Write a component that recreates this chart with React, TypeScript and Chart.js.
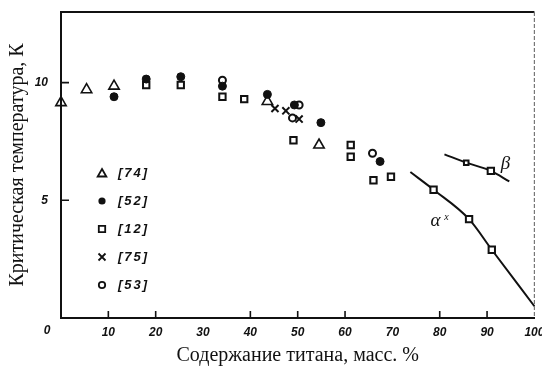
import React, { useEffect, useRef } from 'react';
import { Chart, registerables } from 'chart.js';

Chart.register(...registerables);

// ---- data ----
const xTickValues = [0, 10, 20, 30, 40, 50, 60, 70, 80, 90, 100];
const xInnerTicks = [10, 20, 40, 50, 60, 80, 90];
const yTickValues = [5, 10];

const ref74: number[][] = [[0, 9.15], [5.4, 9.7], [11.2, 9.85], [43.6, 9.2], [54.5, 7.35]];
const ref52: number[][] = [[11.2, 9.4], [18, 10.15], [25.3, 10.25], [34.1, 9.85], [43.6, 9.5], [49.3, 9.05], [54.9, 8.3], [67.4, 6.65]];
const ref12: number[][] = [[18, 9.9], [25.3, 9.9], [34.1, 9.4], [38.7, 9.3], [49.1, 7.55], [61.2, 7.35], [61.2, 6.85], [66, 5.85], [69.7, 6.0]];
const ref75: number[][] = [[45.2, 8.9], [47.5, 8.8], [50.3, 8.45]];
const ref53: number[][] = [[34.1, 10.1], [50.3, 9.05], [48.9, 8.5], [65.8, 7.0]];
const alphaCurve: number[][] = [[73.8, 6.2], [78.7, 5.45], [86.2, 4.2], [91, 2.9], [100, 0.5]];
const alphaMarked = [false, true, true, true, false];
const betaCurve: number[][] = [[81, 6.95], [85.6, 6.6], [90.8, 6.25], [94.7, 5.8]];
const betaMarked = [false, true, true, false];
const legendLabels = ['[74]', '[52]', '[12]', '[75]', '[53]'];
const alphaLabel = { text: 'α', sup: 'x', x: 79.1, y: 4.1 };
const betaLabel = { text: 'β', x: 93.9, y: 6.55 };

const INK = '#111';
const toPts = (a: number[][]) => a.map(([x, y]) => ({ x, y }));

function drawSymbol(ctx: CanvasRenderingContext2D, kind: number, x: number, y: number) {
  ctx.save();
  ctx.strokeStyle = INK;
  ctx.fillStyle = INK;
  ctx.lineWidth = 1.8;
  ctx.beginPath();
  if (kind === 0) {
    const r = 5;
    for (let i = 0; i < 3; i++) {
      const a = -Math.PI / 2 + (i * 2 * Math.PI) / 3;
      const px = x + Math.cos(a) * r, py = y + 1 + Math.sin(a) * r;
      if (i === 0) ctx.moveTo(px, py); else ctx.lineTo(px, py);
    }
    ctx.closePath();
    ctx.stroke();
  } else if (kind === 1) {
    ctx.arc(x, y, 3.6, 0, Math.PI * 2);
    ctx.fill();
  } else if (kind === 2) {
    ctx.rect(x - 3.2, y - 3.2, 6.4, 6.4);
    ctx.stroke();
  } else if (kind === 3) {
    ctx.moveTo(x - 3.5, y - 3.5); ctx.lineTo(x + 3.5, y + 3.5);
    ctx.moveTo(x + 3.5, y - 3.5); ctx.lineTo(x - 3.5, y + 3.5);
    ctx.stroke();
  } else {
    ctx.arc(x, y, 3.2, 0, Math.PI * 2);
    ctx.stroke();
  }
  ctx.restore();
}

const extrasPlugin = {
  id: 'extras',
  afterDraw(chart: any) {
    const { ctx, chartArea: a, scales } = chart;
    const xs = scales.x, ys = scales.y;
    ctx.save();
    // top border
    ctx.strokeStyle = INK;
    ctx.lineWidth = 2;
    ctx.beginPath();
    ctx.moveTo(a.left - 1, a.top);
    ctx.lineTo(a.right, a.top);
    ctx.stroke();
    // right border (faint, broken)
    ctx.strokeStyle = '#777';
    ctx.lineWidth = 1.2;
    ctx.setLineDash([4, 2]);
    ctx.beginPath();
    ctx.moveTo(a.right, a.top);
    ctx.lineTo(a.right, a.bottom);
    ctx.stroke();
    ctx.setLineDash([]);
    // inner tick marks
    ctx.strokeStyle = INK;
    ctx.lineWidth = 1.6;
    ctx.beginPath();
    xInnerTicks.forEach((v) => {
      const px = xs.getPixelForValue(v);
      ctx.moveTo(px, a.bottom);
      ctx.lineTo(px, a.bottom - 7);
    });
    yTickValues.forEach((v) => {
      const py = ys.getPixelForValue(v);
      ctx.moveTo(a.left, py);
      ctx.lineTo(a.left + 8, py);
    });
    ctx.stroke();
    // common origin label
    ctx.fillStyle = INK;
    ctx.font = 'italic bold 12px "Liberation Sans"';
    ctx.textAlign = 'center';
    ctx.textBaseline = 'middle';
    ctx.fillText('0', a.left - 14, a.bottom + 13);
    // legend
    legendLabels.forEach((lab, i) => {
      const y = a.top + 161 + i * 28;
      drawSymbol(ctx, i, a.left + 41, y);
      ctx.fillStyle = INK;
      ctx.font = 'italic bold 13px "Liberation Sans"';
      ctx.textAlign = 'left';
      ctx.textBaseline = 'middle';
      (ctx as any).letterSpacing = '2px';
      ctx.fillText(lab, a.left + 57, y);
      (ctx as any).letterSpacing = '0px';
    });
    // curve labels
    ctx.font = 'italic 19px "Liberation Serif"';
    ctx.textAlign = 'center';
    ctx.textBaseline = 'middle';
    ctx.fillText(alphaLabel.text, xs.getPixelForValue(alphaLabel.x), ys.getPixelForValue(alphaLabel.y));
    ctx.font = 'italic 10px "Liberation Serif"';
    ctx.fillText(alphaLabel.sup, xs.getPixelForValue(alphaLabel.x) + 11, ys.getPixelForValue(alphaLabel.y) - 4);
    ctx.font = 'italic 19px "Liberation Serif"';
    ctx.fillText(betaLabel.text, xs.getPixelForValue(betaLabel.x), ys.getPixelForValue(betaLabel.y));
    ctx.restore();
  },
};

export default function App() {
  const ref = useRef<HTMLCanvasElement>(null);
  useEffect(() => {
    document.body.style.margin = '0';
    const scatterBase = { type: 'scatter' as const, showLine: false, clip: false as any, borderColor: INK };
    const chart = new Chart(ref.current as HTMLCanvasElement, {
      type: 'scatter',
      data: {
        datasets: [
          { ...scatterBase, label: '[74]', data: toPts(ref74), pointStyle: 'triangle', pointRadius: 6, borderWidth: 1.6, backgroundColor: 'rgba(255,255,255,0)' },
          { ...scatterBase, label: '[52]', data: toPts(ref52), pointStyle: 'circle', pointRadius: 4, borderWidth: 1, backgroundColor: INK },
          { ...scatterBase, label: '[12]', data: toPts(ref12), pointStyle: 'rect', pointRadius: 4.5, borderWidth: 2, backgroundColor: 'rgba(255,255,255,0)' },
          { ...scatterBase, label: '[75]', data: toPts(ref75), pointStyle: 'crossRot', pointRadius: 5, borderWidth: 2, backgroundColor: INK },
          { ...scatterBase, label: '[53]', data: toPts(ref53), pointStyle: 'circle', pointRadius: 3.5, borderWidth: 2, backgroundColor: 'rgba(255,255,255,0)' },
          {
            type: 'line', label: 'alpha', data: toPts(alphaCurve), showLine: true, borderColor: INK, borderWidth: 2,
            cubicInterpolationMode: 'monotone', pointStyle: 'rect',
            pointRadius: alphaMarked.map((m) => (m ? 4.5 : 0)), pointBorderWidth: 2,
            pointBackgroundColor: '#fff', pointBorderColor: INK, clip: false as any,
          },
          {
            type: 'line', label: 'beta', data: toPts(betaCurve), showLine: true, borderColor: INK, borderWidth: 2,
            cubicInterpolationMode: 'monotone', pointStyle: 'rect',
            pointRadius: betaMarked.map((m, i) => (m ? (i === 1 ? 3.2 : 4.5) : 0)), pointBorderWidth: 2,
            pointBackgroundColor: '#fff', pointBorderColor: INK, clip: false as any,
          },
        ] as any,
      },
      options: {
        responsive: false,
        animation: false,
        layout: { padding: { top: 12, right: 6, left: 0, bottom: 0 } },
        plugins: { legend: { display: false }, tooltip: { enabled: false } },
        scales: {
          x: {
            type: 'linear', min: 0, max: 100,
            afterBuildTicks: (s: any) => { s.ticks = xTickValues.map((v) => ({ value: v })); },
            afterFit: (s: any) => { s.height = 50; s.paddingLeft = 0; s.paddingRight = 0; },
            grid: { display: false, drawTicks: false },
            border: { display: true, width: 2, color: INK },
            ticks: {
              autoSkip: false, maxRotation: 0, padding: 7, color: INK,
              font: { family: 'Liberation Sans', size: 12, style: 'italic', weight: 'bold' },
              callback: (v: any) => (v === 0 ? '' : String(v)),
            },
            title: {
              display: true, text: 'Содержание титана, масс. %', color: INK,
              font: { family: 'Liberation Serif', size: 20 }, padding: { top: 0, bottom: 0 },
            },
          },
          y: {
            type: 'linear', min: 0, max: 13,
            afterBuildTicks: (s: any) => { s.ticks = yTickValues.map((v) => ({ value: v })); },
            afterFit: (s: any) => { s.width = 61; s.paddingTop = 0; s.paddingBottom = 0; },
            grid: { display: false, drawTicks: false },
            border: { display: true, width: 2, color: INK },
            ticks: {
              padding: 13, color: INK,
              font: { family: 'Liberation Sans', size: 12, style: 'italic', weight: 'bold' },
            },
            title: {
              display: true, text: 'Критическая температура, К', color: INK,
              font: { family: 'Liberation Serif', size: 20 }, padding: { top: 6, bottom: 0 },
            },
          },
        },
      },
      plugins: [extrasPlugin],
    });
    return () => chart.destroy();
  }, []);
  return (
    <div style={{ width: 542, height: 368, background: '#fff' }}>
      <canvas ref={ref} width={542} height={368} style={{ display: 'block' }} />
    </div>
  );
}
